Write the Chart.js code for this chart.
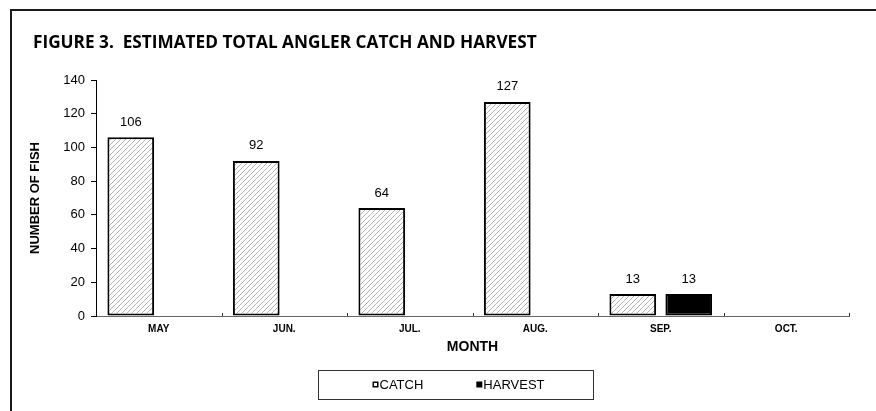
<!DOCTYPE html>
<html>
<head>
<meta charset="utf-8">
<script src="https://cdn.jsdelivr.net/npm/chart.js@4/dist/chart.umd.min.js"></script>
<style>
  html, body { margin: 0; padding: 0; background: #fff; }
  #wrap { width: 876px; height: 411px; position: relative; }
</style>
</head>
<body>
<div id="wrap"><canvas id="c" width="876" height="411"></canvas></div>
<script>
const titleText = "FIGURE 3.  ESTIMATED TOTAL ANGLER CATCH AND HARVEST";
const months = ["MAY", "JUN.", "JUL.", "AUG.", "SEP.", "OCT."];
const catchValues = [106, 92, 64, 127, 13, null];
const harvestValues = [null, null, null, null, 13, null];
const yTicks = [0, 20, 40, 60, 80, 100, 120, 140];
const seriesNames = ["CATCH", "HARVEST"];

function makeHatch() {
  const p = document.createElement('canvas');
  p.width = 5; p.height = 5;
  const g = p.getContext('2d');
  g.fillStyle = '#ffffff';
  g.fillRect(0, 0, 5, 5);
  g.strokeStyle = '#b4b4b4';
  g.lineWidth = 1;
  g.beginPath();
  g.moveTo(-1, 6); g.lineTo(6, -1);
  g.moveTo(-1, 1); g.lineTo(1, -1);
  g.moveTo(4, 6); g.lineTo(6, 4);
  g.stroke();
  return document.getElementById('c').getContext('2d').createPattern(p, 'repeat');
}
const hatch = makeHatch();

const framePlugin = {
  id: 'frame',
  beforeDraw(chart) {
    const ctx = chart.ctx;
    ctx.save();
    ctx.fillStyle = '#fff';
    ctx.fillRect(0, 0, chart.width, chart.height);
    ctx.strokeStyle = '#1a1a1a';
    ctx.lineWidth = 2;
    ctx.beginPath();
    ctx.moveTo(11, 420);
    ctx.lineTo(11, 10);
    ctx.lineTo(880, 10);
    ctx.stroke();
    let size = 18;
    ctx.font = 'bold ' + size + 'px "Open Sans", "Liberation Sans", sans-serif';
    const w = ctx.measureText(titleText).width;
    size = size * 504 / w;
    ctx.font = 'bold ' + size.toFixed(2) + 'px "Open Sans", "Liberation Sans", sans-serif';
    ctx.fillStyle = '#000';
    ctx.textAlign = 'left';
    ctx.textBaseline = 'alphabetic';
    ctx.fillText(titleText, 33, 48);
    ctx.restore();
  }
};

const extrasPlugin = {
  id: 'extras',
  afterDatasetsDraw(chart) {
    const ctx = chart.ctx;
    const xs = chart.scales.x;
    const area = chart.chartArea;
    ctx.save();
    ctx.strokeStyle = '#333';
    ctx.lineWidth = 1;
    ctx.beginPath();
    for (let i = 0; i < months.length; i++) {
      const a = xs.getPixelForValue(i);
      const b = i < months.length - 1 ? xs.getPixelForValue(i + 1) : a + (a - xs.getPixelForValue(i - 1));
      const px = Math.round((a + b) / 2) + 0.5;
      ctx.moveTo(px, area.bottom);
      ctx.lineTo(px, area.bottom - 3);
    }
    ctx.stroke();
    ctx.fillStyle = '#000';
    ctx.font = '13px "Liberation Sans", Arial, sans-serif';
    ctx.textAlign = 'center';
    ctx.textBaseline = 'middle';
    chart.data.datasets.forEach((ds, di) => {
      const meta = chart.getDatasetMeta(di);
      meta.data.forEach((bar, i) => {
        const v = ds.data[i];
        if (v === null || v === undefined) return;
        ctx.fillText(String(v), bar.x, bar.y - 15);
      });
    });
    const bx = 318.5, by = 370.5, bw = 275, bh = 29;
    ctx.strokeStyle = '#333';
    ctx.lineWidth = 1;
    ctx.strokeRect(bx, by, bw, bh);
    ctx.font = '13px "Liberation Sans", Arial, sans-serif';
    ctx.textAlign = 'left';
    const sq = 6, gapText = 1, gapItems = 53;
    const widths = seriesNames.map(n => sq + gapText + ctx.measureText(n).width);
    const total = widths[0] + gapItems + widths[1];
    let x = 458.5 - total / 2;
    const cy = 384.5;
    seriesNames.forEach((n, i) => {
      if (i === 0) {
        ctx.fillStyle = '#fff';
        ctx.fillRect(x, cy - 3, sq, sq);
        ctx.strokeStyle = '#000';
        ctx.lineWidth = 1.5;
        ctx.strokeRect(x + 0.75, cy - 2.25, sq - 1.5, sq - 1.5);
      } else {
        ctx.fillStyle = '#000';
        ctx.fillRect(x, cy - 3, sq, sq);
      }
      ctx.fillStyle = '#000';
      ctx.fillText(n, x + sq + gapText, cy + 0.5);
      x += widths[i] + gapItems;
    });
    ctx.restore();
  }
};

new Chart(document.getElementById('c'), {
  type: 'bar',
  data: {
    labels: months,
    datasets: [
      {
        label: seriesNames[0],
        data: catchValues,
        backgroundColor: hatch,
        borderColor: '#000',
        borderWidth: 2,
        borderSkipped: false,
        categoryPercentage: 0.892,
        barPercentage: 0.834
      },
      {
        label: seriesNames[1],
        data: harvestValues,
        backgroundColor: '#000',
        borderColor: '#000',
        borderWidth: 2,
        borderSkipped: false,
        categoryPercentage: 0.892,
        barPercentage: 0.834
      }
    ]
  },
  options: {
    responsive: false,
    animation: false,
    devicePixelRatio: 1,
    layout: { padding: { left: 11, top: 80, right: 27, bottom: 55 } },
    plugins: {
      legend: { display: false },
      title: { display: false },
      tooltip: { enabled: false }
    },
    scales: {
      x: {
        grid: { display: true, drawOnChartArea: false, drawTicks: false, offset: true },
        border: { display: true, color: '#666', width: 1 },
        ticks: {
          color: '#000',
          padding: 7,
          font: { family: '"Liberation Sans", Arial, sans-serif', size: 10, weight: 'bold' },
          maxRotation: 0
        },
        title: {
          display: true,
          text: 'MONTH',
          color: '#000',
          padding: { top: 0, bottom: 0 },
          font: { family: '"Liberation Sans", Arial, sans-serif', size: 14, weight: 'bold' }
        },
        afterFit(scale) { scale.height = 40; }
      },
      y: {
        min: 0,
        max: 140,
        afterBuildTicks(scale) { scale.ticks = yTicks.map(v => ({ value: v })); },
        grid: { display: true, drawOnChartArea: false, drawTicks: true, tickLength: 5, color: '#000' },
        border: { display: true, color: '#000', width: 1 },
        ticks: {
          color: '#000',
          padding: 6,
          font: { family: '"Liberation Sans", Arial, sans-serif', size: 13 }
        },
        title: {
          display: true,
          text: 'NUMBER OF FISH',
          color: '#000',
          padding: { top: 17, bottom: 0 },
          font: { family: '"Liberation Sans", Arial, sans-serif', size: 13, weight: 'bold' }
        },
        afterFit(scale) { scale.width = 85; }
      }
    }
  },
  plugins: [framePlugin, extrasPlugin]
});
</script>
</body>
</html>
